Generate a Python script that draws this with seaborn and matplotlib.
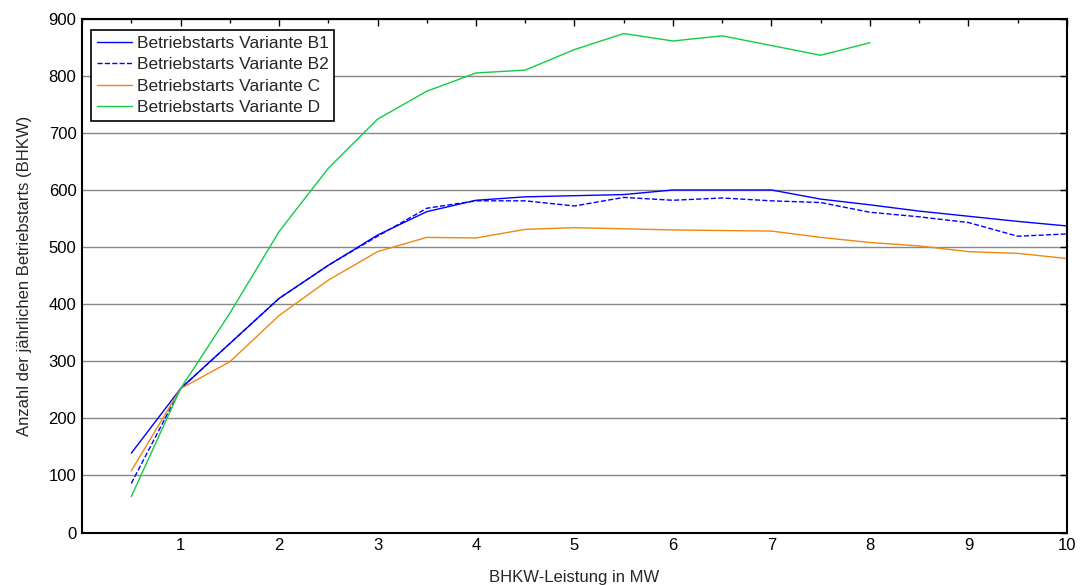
import numpy as np
import pandas as pd
import matplotlib
matplotlib.use("Agg")
import matplotlib.pyplot as plt
import seaborn as sns
from matplotlib.ticker import MultipleLocator

leistung = [0.5, 1, 1.5, 2, 2.5, 3, 3.5, 4, 4.5, 5, 5.5, 6, 6.5, 7, 7.5, 8, 8.5, 9, 9.5, 10]
b1 = [139, 252, 331, 410, 468, 521, 562, 582, 588, 590, 592, 600, 600, 600, 584, 574, 563, 554, 545, 537]
b2 = [86, 252, 331, 410, 468, 519, 568, 581, 581, 572, 587, 582, 586, 581, 578, 561, 553, 543, 519, 523]
c = [108, 252, 299, 380, 442, 492, 517, 516, 531, 534, 532, 530, 529, 528, 517, 508, 502, 492, 489, 480]
d_x = [0.5, 1, 1.5, 2, 2.5, 3, 3.5, 4, 4.5, 5, 5.5, 6, 6.5, 7, 7.5, 8]
d = [63, 252, 384, 527, 638, 724, 773, 805, 810, 846, 874, 861, 870, 853, 836, 858]

labels = ["Betriebstarts Variante B1", "Betriebstarts Variante B2",
          "Betriebstarts Variante C", "Betriebstarts Variante D"]

sns.set_style("white")
plt.rcParams['font.family'] = ['Liberation Sans', 'DejaVu Sans']
plt.rcParams['xtick.direction'] = 'in'
plt.rcParams['ytick.direction'] = 'in'

fig = plt.figure(figsize=(10.81, 5.85), dpi=100)
ax = fig.add_axes([0.0759, 0.0897, 0.987 - 0.0759, 0.968 - 0.0897])

series = [
    (leistung, b1, labels[0], '#0000ff', '-'),
    (leistung, b2, labels[1], '#0000ff', '--'),
    (leistung, c, labels[2], '#ee8811', '-'),
    (d_x, d, labels[3], '#11cc44', '-'),
]
for xs, ys, lab, col, ls in series:
    df = pd.DataFrame({"x": xs, "y": ys})
    sns.lineplot(data=df, x="x", y="y", ax=ax, color=col, linestyle=ls,
                 linewidth=1.0, label=lab)

ax.set_xlim(0, 10)
ax.set_ylim(0, 900)
ax.xaxis.set_minor_locator(MultipleLocator(0.5))
ax.yaxis.set_major_locator(MultipleLocator(100))
ax.set_xticks(range(1, 11))
ax.grid(axis='y', color='#888888', linewidth=1.0)
ax.tick_params(which='both', top=True, right=True, labelsize=12, colors='black')
ax.tick_params(which='major', length=5, width=1, pad=4)
ax.tick_params(which='minor', length=3, width=1)
for s in ax.spines.values():
    s.set_color('black')
    s.set_linewidth(1.5)

ax.set_xlabel("BHKW-Leistung in MW", fontsize=12)
ax.xaxis.set_label_coords(0.5, -0.073)
ax.set_ylabel("Anzahl der jährlichen Betriebstarts (BHKW)", fontsize=12, labelpad=12)

leg = ax.legend(loc='upper left', bbox_to_anchor=(0.0095, 0.978), fontsize=12.5,
                frameon=True, fancybox=False, handlelength=2.0, handletextpad=0.25,
                borderpad=0.35, labelspacing=0.35, borderaxespad=0)
leg.get_frame().set_edgecolor('black')
leg.get_frame().set_linewidth(1.2)
leg.get_frame().set_alpha(1)

fig.savefig("out.png", dpi=100)
